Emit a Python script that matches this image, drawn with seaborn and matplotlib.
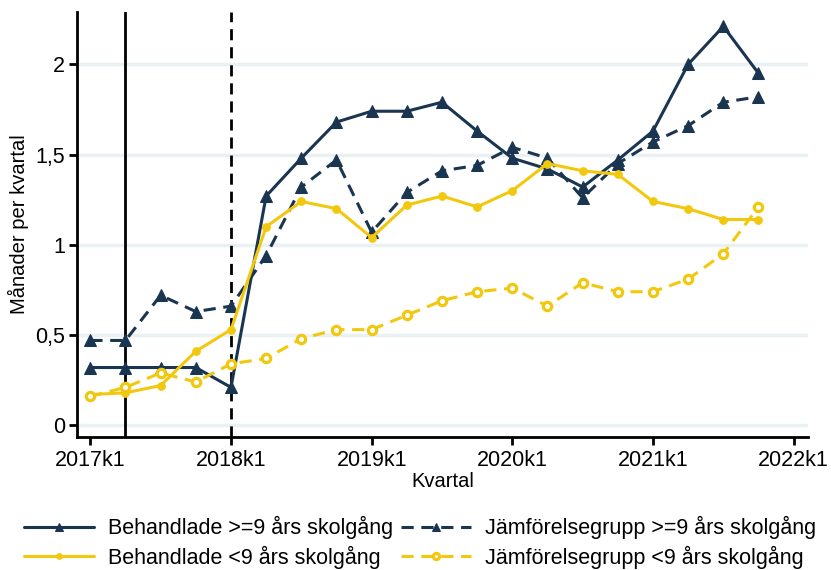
import matplotlib
matplotlib.use('Agg')
import matplotlib.pyplot as plt
import seaborn as sns

# kvartal 2017k1 .. 2021k4 as index 0..19
quarters = list(range(20))
tick_pos = [0, 4, 8, 12, 16, 20]
tick_labels = ['2017k1', '2018k1', '2019k1', '2020k1', '2021k1', '2022k1']
ytick_pos = [0, 0.5, 1, 1.5, 2]
ytick_labels = ['0', '0,5', '1', '1,5', '2']

behandlade_hog = [0.32, 0.32, 0.32, 0.32, 0.21, 1.27, 1.48, 1.68, 1.74, 1.74,
                  1.79, 1.63, 1.48, 1.42, 1.32, 1.47, 1.63, 2.00, 2.21, 1.95]
jamfor_hog = [0.47, 0.47, 0.72, 0.63, 0.66, 0.94, 1.32, 1.47, 1.07, 1.29,
              1.41, 1.44, 1.54, 1.48, 1.26, 1.45, 1.57, 1.66, 1.79, 1.82]
behandlade_lag = [0.17, 0.18, 0.22, 0.41, 0.53, 1.10, 1.24, 1.20, 1.04, 1.22,
                  1.27, 1.21, 1.30, 1.45, 1.41, 1.39, 1.24, 1.20, 1.14, 1.14]
jamfor_lag = [0.16, 0.21, 0.29, 0.24, 0.34, 0.37, 0.48, 0.53, 0.53, 0.61,
              0.69, 0.74, 0.76, 0.66, 0.79, 0.74, 0.74, 0.81, 0.95, 1.21]

navy = '#1a3550'
yellow = '#f2c80f'
dash = (0, (4, 2.5))

sns.set_style('white')
plt.rcParams['font.family'] = ['Liberation Sans', 'DejaVu Sans']
plt.rcParams['text.color'] = 'black'
plt.rcParams['axes.labelcolor'] = 'black'
plt.rcParams['xtick.color'] = 'black'
plt.rcParams['ytick.color'] = 'black'

fig = plt.figure(figsize=(8.31, 5.70), dpi=100)
ax = fig.add_axes([0.093, 0.233, 0.879, 0.746])

for yv in ytick_pos:
    ax.axhline(yv, color='#eaf1f3', lw=2.5, zorder=0)

ax.axvline(1, color='black', lw=2, zorder=1)
ax.axvline(4, color='black', lw=2, ls=dash, zorder=1)

sns.lineplot(x=quarters, y=behandlade_hog, ax=ax, color=navy, lw=2.2,
             marker='^', markersize=8, markeredgecolor=navy,
             label='Behandlade >=9 års skolgång', zorder=3)
sns.lineplot(x=quarters, y=jamfor_hog, ax=ax, color=navy, lw=2.2,
             linestyle=dash, marker='^', markersize=8,
             markeredgecolor=navy, label='Jämförelsegrupp >=9 års skolgång', zorder=3)
sns.lineplot(x=quarters, y=behandlade_lag, ax=ax, color=yellow, lw=2.2,
             marker='o', markersize=5.5, markeredgecolor=yellow,
             label='Behandlade <9 års skolgång', zorder=4)
sns.lineplot(x=quarters, y=jamfor_lag, ax=ax, color=yellow, lw=2.2,
             linestyle=dash, marker='o', markersize=6,
             markerfacecolor='white', markeredgecolor=yellow, markeredgewidth=2.3,
             label='Jämförelsegrupp <9 års skolgång', zorder=4)

ax.set_xlim(-0.37, 20.4)
ax.set_ylim(-0.066, 2.29)
ax.set_xticks(tick_pos)
ax.set_xticklabels(tick_labels)
ax.set_yticks(ytick_pos)
ax.set_yticklabels(ytick_labels)
ax.tick_params(axis='both', direction='out', length=6, width=2, labelsize=15.5,
               bottom=True, left=True, color='black', pad=3)
ax.set_xlabel('Kvartal', fontsize=14.5, labelpad=1)
ax.set_ylabel('Månader per kvartal', fontsize=14.5, labelpad=4)
for s in ['top', 'right']:
    ax.spines[s].set_visible(False)
for s in ['left', 'bottom']:
    ax.spines[s].set_color('black')
    ax.spines[s].set_linewidth(2)

# legend rows: treated / comparison side by side
handles, labels = ax.get_legend_handles_labels()
order = [0, 2, 1, 3]
ax.legend([handles[i] for i in order], [labels[i] for i in order],
          loc='center', bbox_to_anchor=(0.5055, 0.048),
          bbox_transform=fig.transFigure, ncol=2, frameon=False,
          fontsize=15.5, handlelength=3.25, columnspacing=0.33,
          handletextpad=0.65, labelspacing=0.3, borderpad=0, borderaxespad=0,
          markerscale=0.75)

fig.savefig('out.png', dpi=100)
